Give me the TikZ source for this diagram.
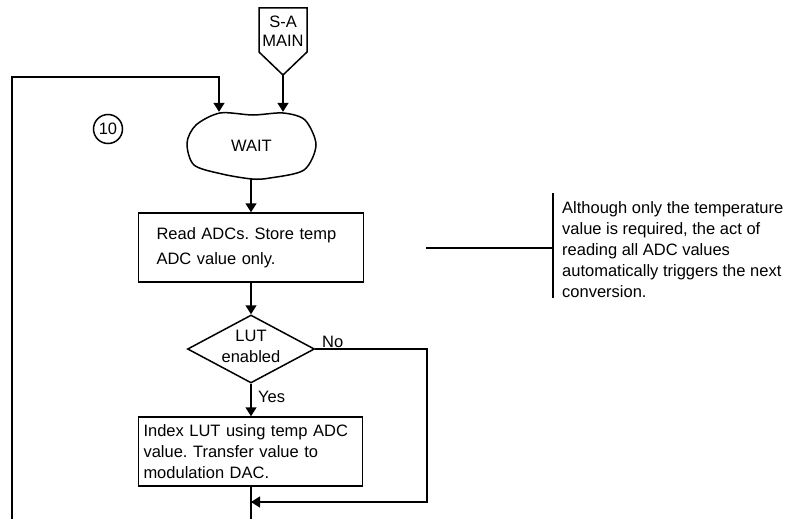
\documentclass[tikz,border=0pt]{standalone}
\usepackage{fontspec}
\setmainfont{Liberation Sans}
\usetikzlibrary{arrows.meta,shapes.geometric}

\tikzset{
    flow/.style={line width=1.5pt},
    arrow/.style={flow,-{Triangle[width=11pt,length=9pt]}},
    box/.style={draw,flow,rectangle,align=left,inner sep=0pt},
}

\begin{document}
\frenchspacing
\begin{tikzpicture}[x=1pt,y=-1pt]
            \fontsize{16.5}{21}\selectfont
            \useasboundingbox (0,0) rectangle (792,519);

            % off-page connector
            \node [align=center,inner sep=0pt,font=\fontsize{16.5}{18.5}\selectfont] (samain) at (283,31) {S-A\\MAIN};
            \draw [flow,line join=miter]
                (259,8) -- (307,8) -- (307,52) -- (283,75) -- (259,52) -- cycle
            ;
            \coordinate (samaintip) at (283,75);

            % wait state
            \node [minimum width=129pt,minimum height=67pt,inner sep=0pt] (wait) at (251.5,145.5) {WAIT};
            \draw [flow] plot [smooth cycle] coordinates {
                (187,143) (196,125) (220,113) (253,115) (283,113) (305,120)
                (316,145) (304,170) (270,178) (252,179) (222,174) (194,165)
            };

            \node [draw,circle,flow,minimum size=29pt,inner sep=0pt] (ten) at (108,129) {10};

            \node [box,text width=189pt,minimum width=225pt,minimum height=69pt] (read) at (251,247.5)
                {Read ADCs. Store temp\\[4pt]ADC value only.};

            \node [draw,diamond,flow,minimum width=127pt,minimum height=68pt,inner sep=0pt] (lut) at (251,349) {};
            \node [align=center,inner sep=0pt] (luttext) at (251,346) {LUT\\enabled};

            \node [box,text width=214pt,minimum width=224pt,minimum height=69pt] (idx) at (250.5,451.5)
                {Index LUT using temp ADC\\value. Transfer value to\\modulation DAC.};

            % loose ends
            \coordinate (loopbot) at (12,519);
            \coordinate (loopturn) at (219,77);
            \coordinate (bot) at (251,519);
            \coordinate (noturn) at (427,349);
            \coordinate (nojoin) at (251,502);

            \draw [arrow] (samaintip) -- (samaintip |- wait.north);
            \draw [arrow] (loopbot) |- (loopturn) -- (loopturn |- wait.north);
            \draw [arrow] (read.north |- wait.south) -- (read.north);
            \draw [arrow] (read.south -| lut.north) -- (lut.north);
            \draw [arrow] (lut.south) -- (idx.north -| lut.south);
            \draw [arrow] (lut.east) -- (noturn) |- (nojoin);
            \draw [flow] (idx.south -| bot) -- (bot);

            \node [anchor=base west,inner sep=0pt] (yes) at (258,402) {Yes};
            \node [anchor=base west,inner sep=0pt] (no) at (322,347) {No};

            % annotation
            \coordinate (notestart) at (426,248);
            \coordinate (bartop) at (553,193);
            \coordinate (barbot) at (553,298);
            \draw [flow] (bartop) -- (barbot);
            \draw [flow] (notestart) -- (notestart -| bartop);
            \node [anchor=north west,align=left,inner sep=0pt] (note) at (562,201)
                {Although only the temperature\\value is required, the act of\\reading all ADC values\\automatically triggers the next\\conversion.};
\end{tikzpicture}
\end{document}
